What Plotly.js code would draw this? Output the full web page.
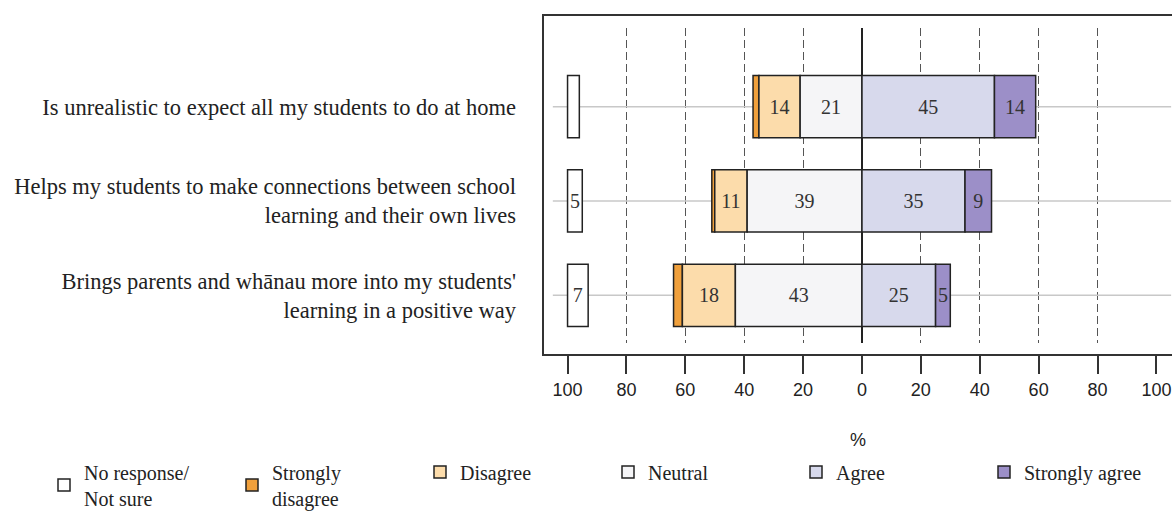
<!DOCTYPE html>
<html>
<head>
<meta charset="utf-8">
<script src="https://cdn.plot.ly/plotly-3.0.1.min.js"></script>
<style>
  html, body { margin: 0; padding: 0; background: #ffffff; }
  #chart { width: 1172px; height: 530px; }
</style>
</head>
<body>
<div id="chart"></div>
<script>
// ---------- data ----------
const categories = [
  'Is unrealistic to expect all my students to do at home',
  'Helps my students to make connections between school<br>learning and their own lives',
  "Brings parents and wh\u0101nau more into my students'<br>learning in a positive way"
];
const noResponse       = [4, 5, 7];
const stronglyDisagree = [2, 1, 3];
const disagree         = [14, 11, 18];
const neutral          = [21, 39, 43];
const agree            = [45, 35, 25];
const stronglyAgree    = [14, 9, 5];

const seriesNames = ['No response/<br>Not sure', 'Strongly<br>disagree', 'Disagree', 'Neutral', 'Agree', 'Strongly agree'];
const tickValues = [-100, -80, -60, -40, -20, 0, 20, 40, 60, 80, 100];
const tickLabels = ['100', '80', '60', '40', '20', '0', '20', '40', '60', '80', '100'];
const gridValues = [-80, -60, -40, -20, 20, 40, 60, 80];
const guideRange = [-105, 105];
const noResponseOrigin = -100;

// ---------- styles ----------
const colors = ['#ffffff', '#f0a03c', '#fcdcab', '#f5f5f7', '#d7d9ec', '#9c8fc8'];
const serif = '"Liberation Serif", "Times New Roman", serif';
const sans = '"Liberation Sans", Arial, sans-serif';
const edge = {color: '#222222', width: 1.5};

const label = arr => arr.map(v => (v >= 5 ? String(v) : ''));
const negBase = (...parts) => categories.map((_, i) => -parts.reduce((s, p) => s + p[i], 0));

const segs = [
  {x: noResponse,       base: categories.map(() => noResponseOrigin)},
  {x: stronglyDisagree, base: negBase(neutral, disagree, stronglyDisagree)},
  {x: disagree,         base: negBase(neutral, disagree)},
  {x: neutral,          base: negBase(neutral)},
  {x: agree,            base: categories.map(() => 0)},
  {x: stronglyAgree,    base: agree.slice()}
];

const traces = segs.map((s, k) => ({
  type: 'bar',
  orientation: 'h',
  name: seriesNames[k],
  y: categories,
  x: s.x,
  base: s.base,
  xaxis: 'x2',
  yaxis: 'y2',
  marker: {color: colors[k], line: edge},
  text: label(s.x),
  textposition: 'inside',
  insidetextanchor: 'middle',
  constraintext: 'none',
  textangle: 0,
  textfont: {family: serif, size: 20, color: '#333333'},
  hoverinfo: 'name+x'
}));

// invisible trace so the frame/tick subplot is drawn
traces.unshift({
  type: 'scatter', mode: 'markers', x: [0], y: [0.5],
  xaxis: 'x', yaxis: 'y',
  marker: {opacity: 0}, showlegend: false, hoverinfo: 'skip'
});

const shapes = categories.map(c => ({
  type: 'line', xref: 'x2', yref: 'y2',
  x0: guideRange[0], x1: guideRange[1], y0: c, y1: c,
  layer: 'between',
  line: {color: '#c8c8c8', width: 1.5}
}));

const layout = {
  width: 1172, height: 530,
  margin: {l: 544, r: 0, t: 16, b: 176},
  paper_bgcolor: '#ffffff',
  plot_bgcolor: 'rgba(0,0,0,0)',
  barmode: 'overlay',
  bargap: 0.34,
  showlegend: true,
  font: {family: serif, color: '#222222'},
  // frame + tick subplot
  xaxis: {
    domain: [0, 1], anchor: 'y',
    range: [-108, 105.3],
    tickmode: 'array', tickvals: tickValues, ticktext: tickLabels,
    ticks: 'outside', ticklen: 18, tickwidth: 1.5, tickcolor: '#333333',
    tickfont: {family: sans, size: 18, color: '#222222'},
    showline: true, mirror: true, linecolor: '#333333', linewidth: 1.8,
    showgrid: false, zeroline: false,
    title: {text: '%', font: {family: sans, size: 18, color: '#222222'}, standoff: 35}
  },
  yaxis: {
    domain: [0, 1], anchor: 'x', range: [0, 1],
    showline: true, mirror: false, linecolor: '#333333', linewidth: 1.8,
    showticklabels: false, ticks: '', showgrid: false, zeroline: false
  },
  // data subplot
  xaxis2: {
    domain: [0, 1], anchor: 'y2', matches: 'x',
    tickmode: 'array', tickvals: gridValues,
    showticklabels: false, ticks: '',
    showgrid: true, gridcolor: '#555555', gridwidth: 1.2, griddash: '8px,4px',
    zeroline: true, zerolinecolor: '#222222', zerolinewidth: 1.5,
    showline: false
  },
  yaxis2: {
    domain: [0.0325, 0.9645], anchor: 'x2',
    type: 'category', categoryorder: 'array', categoryarray: categories,
    range: [2.506, -0.834],
    ticks: '', ticklabelstandoff: 27,
    tickfont: {family: serif, size: 22.5, color: '#222222'},
    showgrid: false, zeroline: false, showline: false
  },
  legend: {
    orientation: 'h',
    x: -0.79, xanchor: 'left',
    y: -0.3876, yanchor: 'middle',
    entrywidth: 143, entrywidthmode: 'pixels',
    font: {family: serif, size: 20, color: '#222222'},
    traceorder: 'normal',
    bgcolor: 'rgba(0,0,0,0)'
  },
  shapes: shapes
};

Plotly.newPlot('chart', traces, layout, {displayModeBar: false, responsive: false});
</script>
</body>
</html>
